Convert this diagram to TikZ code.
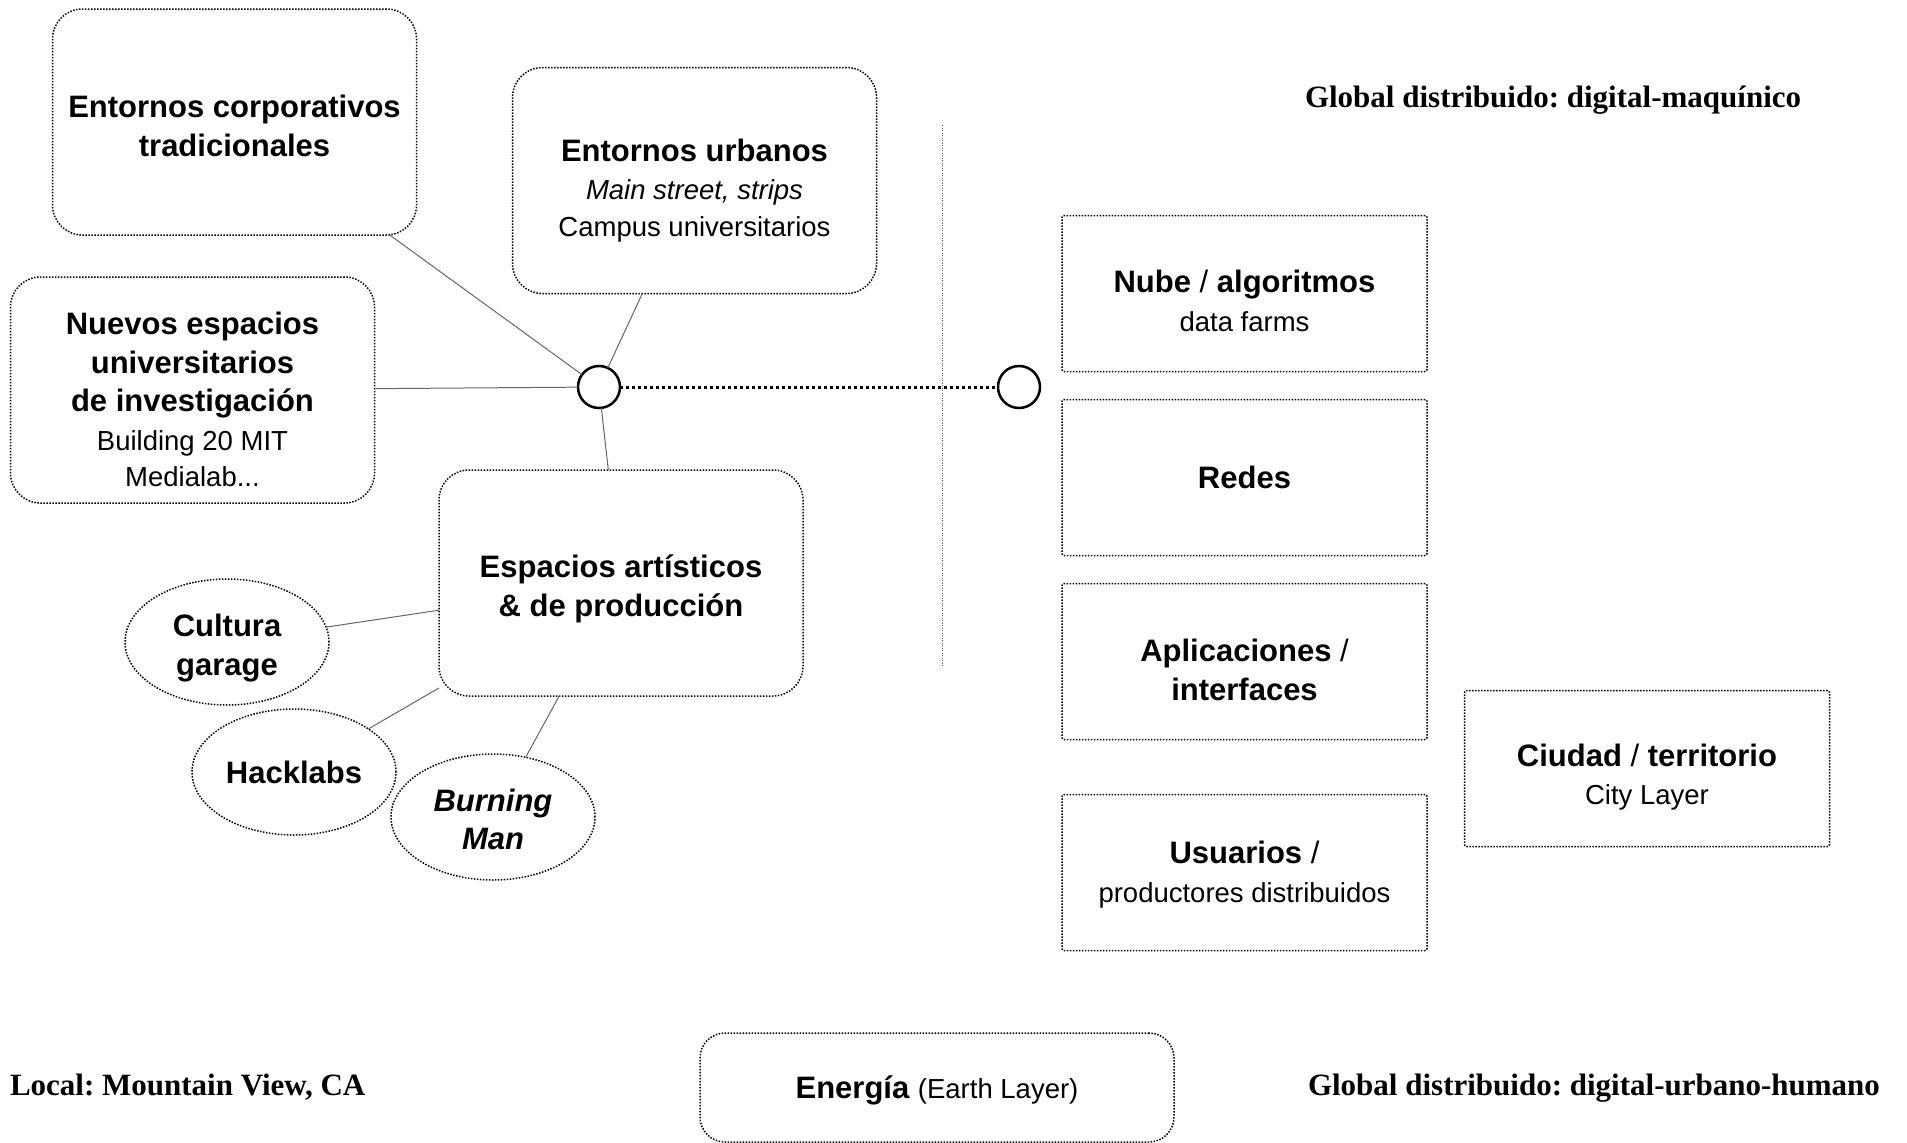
\documentclass[tikz,border=0pt]{standalone}
\usepackage{fontspec}
\setmainfont{Liberation Serif}
\setsansfont{Liberation Sans}
\usetikzlibrary{positioning, shapes.geometric}
\frenchspacing
\newcommand\subline[1]{{\fontsize{27.5}{34}\selectfont\mdseries #1}}
\newcommand\thinslash{{\mdseries /}}
\newcommand\boxstrut[1]{\rule{0pt}{#1pt}}

\begin{document}
\begin{tikzpicture}[x=1pt, y=-1pt,
    every node/.style={inner sep=0pt, outer sep=0pt},
    bigfont/.style={font=\sffamily\bfseries\fontsize{31}{38.5}\selectfont},
    dots/.style={draw, line width=1.5pt, dash pattern=on 1.5pt off 1.5pt},
    roundbox/.style={dots, rounded corners=30pt, minimum width=364pt,
      minimum height=226pt, align=center, bigfont},
    layerbox/.style={dots, rounded corners=2pt, minimum width=365pt,
      minimum height=156pt, align=center, bigfont},
    bubble/.style={dots, ellipse, minimum width=204pt, minimum height=126pt,
      align=center, bigfont},
    hubnode/.style={circle, draw, line width=2.5pt, minimum size=42pt, fill=white},
    link/.style={draw=black!60, line width=1pt},
    heading/.style={anchor=base west, font=\rmfamily\bfseries\fontsize{31}{36}\selectfont}]
  \useasboundingbox (0,0) rectangle (1907,1143);

  % local side
  \node[roundbox] (corp) at (234.5,122) {\boxstrut{30}Entornos corporativos\\tradicionales};
  \node[roundbox] (urban) at (694.5,180.5)
    {\boxstrut{42}Entornos urbanos\\\subline{\itshape Main street, strips}\\[-2pt]\subline{Campus universitarios}};
  \node[roundbox] (lab) at (192.5,390)
    {\boxstrut{42}Nuevos espacios\\universitarios\\de investigación\\\subline{Building 20 MIT}\\[-2pt]\subline{Medialab...}};
  \node[roundbox] (art) at (621,583) {\boxstrut{34}Espacios artísticos\\\& de producción};

  \node[bubble] (garage) at (227,642) {\boxstrut{35}Cultura\\garage};
  \node[bubble] (hack) at (294,772) {Hacklabs};
  \node[bubble] (burn) at (493,817) {\boxstrut{27}\itshape Burning\\\itshape Man};

  \node[hubnode] (hub) at (599,387) {};
  \node[hubnode] (hubb) at (1019,387) {};

  \draw[link] (corp) -- (hub);
  \draw[link] (urban) -- (hub);
  \draw[link] (lab) -- (hub);
  \draw[link] (art) -- (hub);
  \draw[link] (garage) -- (art);
  \draw[link] (hack) -- (art);
  \draw[link] (burn) -- (art);

  % divider
  \draw[draw=black!60, line width=1pt, dash pattern=on 1pt off 1.5pt]
    (942,125) coordinate (vtop) -- (942,667) coordinate (vbot);
  \draw[line width=3pt, dash pattern=on 3pt off 3pt] (hub) -- (hubb);

  % global side
  \node[layerbox] (cloud) at (1244.5,293.5) {\boxstrut{37}Nube \thinslash{} algoritmos\\\subline{data farms}};
  \node[layerbox, below=28pt of cloud] (net) {Redes};
  \node[layerbox, below=28pt of net] (apps) {\boxstrut{39}Aplicaciones \thinslash\\interfaces};
  \node[layerbox, below=55pt of apps] (users) {\boxstrut{27}Usuarios \thinslash\\\subline{productores distribuidos}};
  \node[layerbox] (city) at (1647,768.5) {\boxstrut{40}Ciudad \thinslash{} territorio\\\subline{City Layer}};
  \node[roundbox, rounded corners=25pt, minimum width=474pt, minimum height=109pt]
    (energy) at (937,1087.5) {\boxstrut{28}Energía \subline{(Earth Layer)}};

  \node[heading] (topglobal) at (1305,107) {Global distribuido: digital-maquínico};
  \node[heading] (local) at (10,1095) {Local: Mountain View, CA};
  \node[heading] (botglobal) at (1308,1095) {Global distribuido: digital-urbano-humano};
\end{tikzpicture}
\end{document}
